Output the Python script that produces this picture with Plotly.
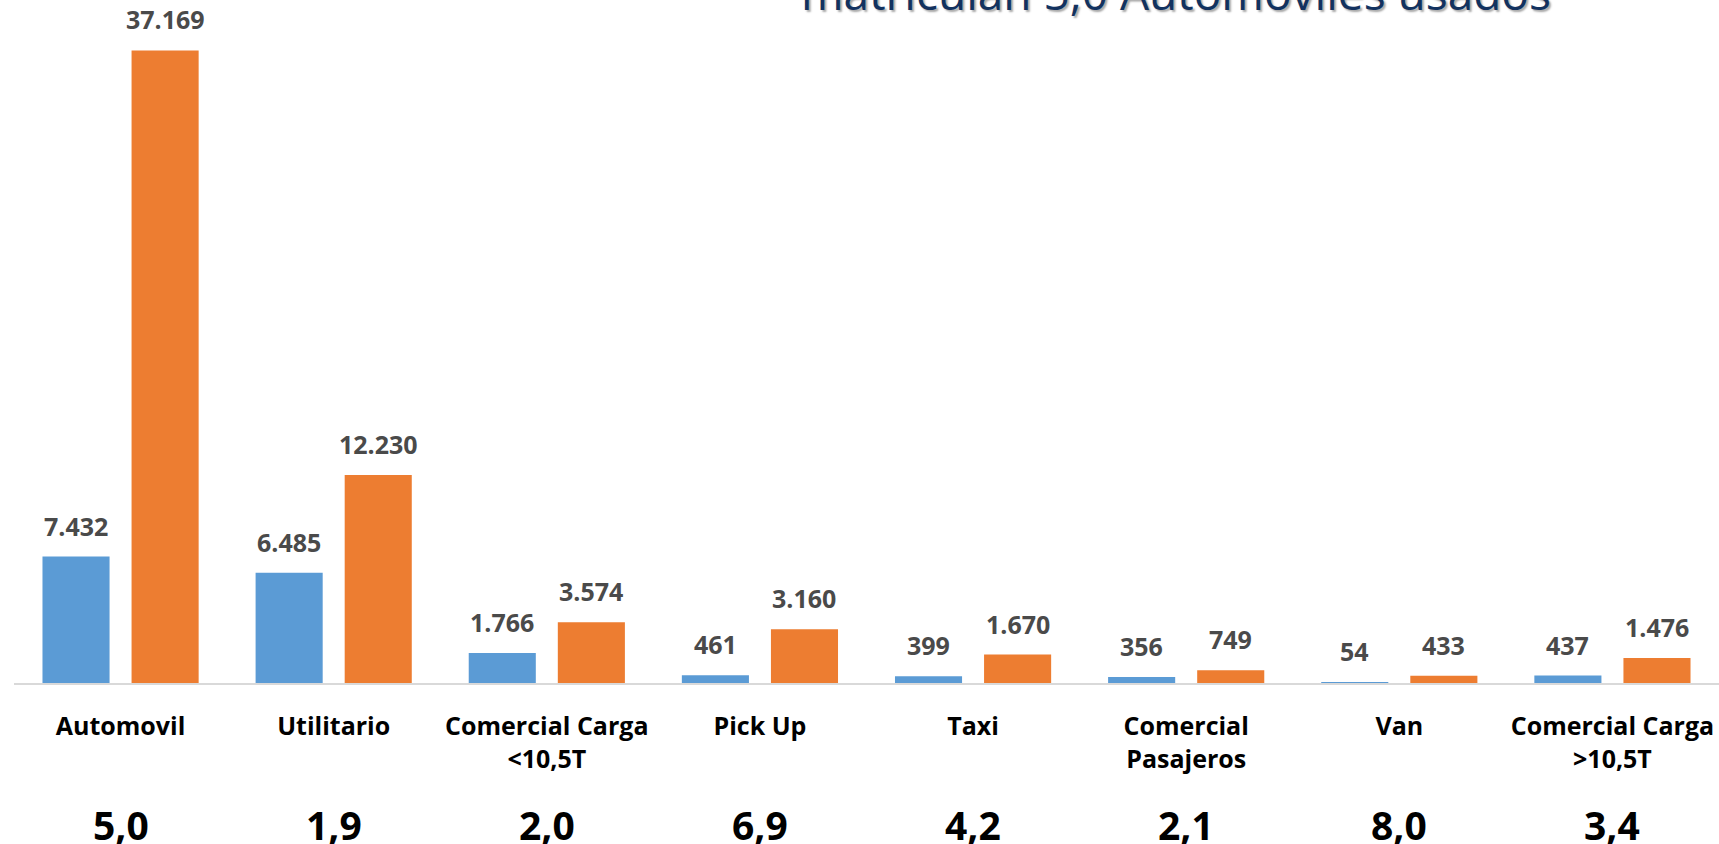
import plotly.graph_objects as go

categories = ["Automovil", "Utilitario", "Comercial Carga<br>&lt;10,5T", "Pick Up", "Taxi",
              "Comercial<br>Pasajeros", "Van", "Comercial Carga<br>&gt;10,5T"]
nuevos = [7432, 6485, 1766, 461, 399, 356, 54, 437]
usados = [37169, 12230, 3574, 3160, 1670, 749, 433, 1476]
ratios = ["5,0", "1,9", "2,0", "6,9", "4,2", "2,1", "8,0", "3,4"]
title_text = "matriculan 5,0 Automoviles usados"

BLUE = "#5B9BD5"
ORANGE = "#ED7D31"
LABEL_GRAY = "#4A4A4A"


def fmt(v):
    return f"{v:,}".replace(",", ".")


fig = go.Figure()
fig.add_trace(go.Bar(x=categories, y=nuevos, marker=dict(color=BLUE, line=dict(width=0)),
                     name="Nuevos", hoverinfo="x+y"))
fig.add_trace(go.Bar(x=categories, y=usados, marker=dict(color=ORANGE, line=dict(width=0)),
                     name="Usados", hoverinfo="x+y"))

annotations = []
label_font = dict(family="Open Sans", size=25, color=LABEL_GRAY, weight="bold")
for cat, vb, vo in zip(categories, nuevos, usados):
    annotations.append(dict(x=cat, y=vb, xref="x", yref="y", text=fmt(vb), showarrow=False,
                            xshift=-44.5, yshift=12, yanchor="bottom", font=label_font))
    annotations.append(dict(x=cat, y=vo, xref="x", yref="y", text=fmt(vo), showarrow=False,
                            xshift=44.5, yshift=12, yanchor="bottom", font=label_font))

for cat, r in zip(categories, ratios):
    annotations.append(dict(x=cat, y=-0.2065, xref="x", yref="paper", text=r, showarrow=False,
                            yanchor="middle",
                            font=dict(family="Open Sans", size=39, color="#000000", weight="bold")))

annotations.append(dict(x=0.4604, y=0.9630, xref="paper", yref="paper", text=title_text,
                        showarrow=False, xanchor="left", yanchor="bottom",
                        font=dict(family="Open Sans", size=46, color="#12325F",
                                  shadow="2px 2px 2px rgba(0,0,0,0.35)")))

fig.update_layout(
    width=1719, height=844,
    margin=dict(l=14, r=0, t=0, b=161),
    paper_bgcolor="white", plot_bgcolor="white",
    barmode="group", bargap=0.164, bargroupgap=0.247,
    showlegend=False,
    annotations=annotations,
    xaxis=dict(showline=True, linecolor="#D9D9D9", linewidth=2, showgrid=False, zeroline=False,
               ticks="", ticklabelstandoff=20,
               tickfont=dict(family="Open Sans", size=25, color="#000000", weight="bold")),
    yaxis=dict(visible=False, range=[0, 40136], showgrid=False, zeroline=False),
)

fig.write_html("out.html", config={"displayModeBar": False},
               post_script="document.body.style.margin='0';document.body.style.overflow='hidden';")
